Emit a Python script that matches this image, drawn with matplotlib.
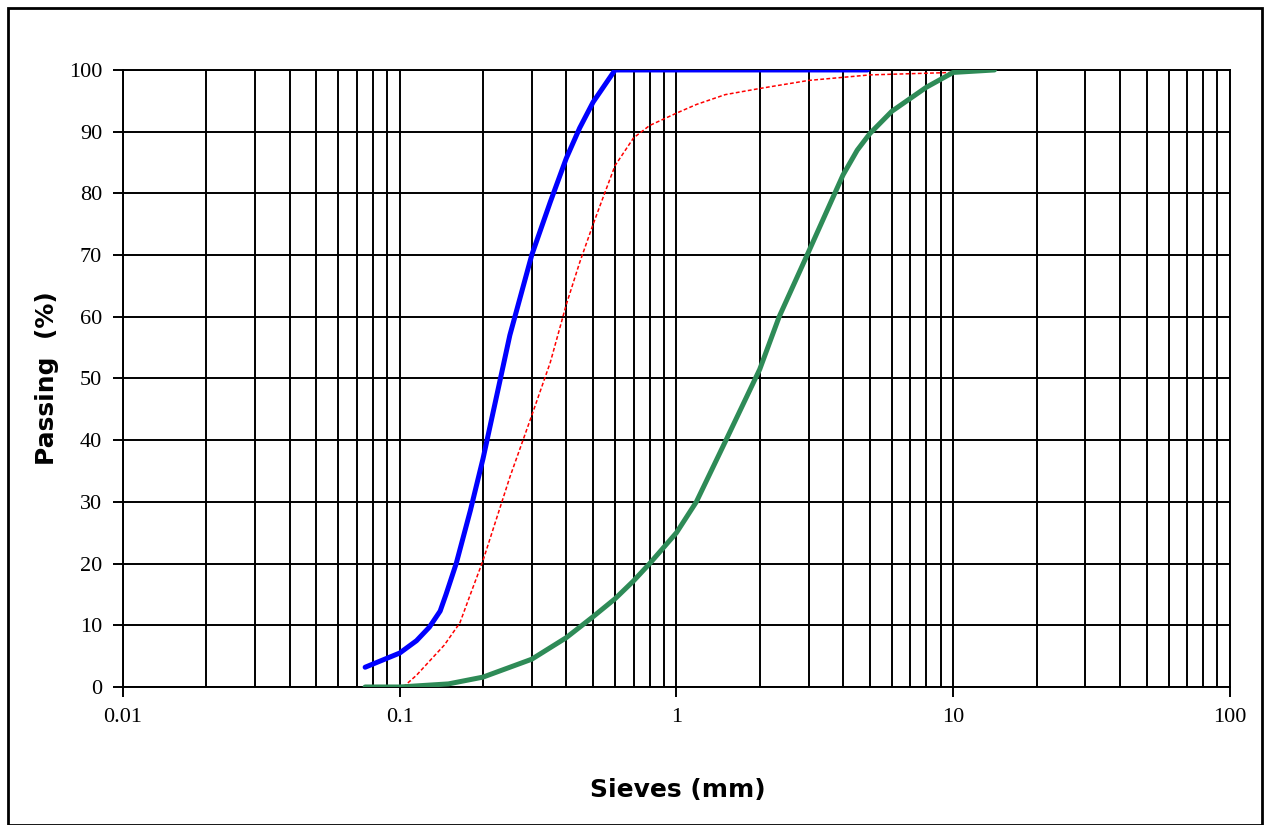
import matplotlib
matplotlib.use("Agg")
import matplotlib.pyplot as plt
from matplotlib.patches import Rectangle
from matplotlib.ticker import LogLocator, FixedLocator, NullFormatter

# sieve sizes (mm) and % passing
blue_x = [0.075, 0.1, 0.115, 0.128, 0.14, 0.147, 0.16, 0.18, 0.2, 0.25, 0.3, 0.35, 0.4, 0.447, 0.5, 0.6, 1.18, 4.9]
blue_y = [3.2, 5.5, 7.5, 9.7, 12.3, 15, 20, 28.6, 37, 57, 70, 78.6, 85.7, 90.6, 94.8, 100, 100, 100]

red_x = [0.103, 0.115, 0.13, 0.145, 0.165, 0.18, 0.2, 0.25, 0.3, 0.35, 0.4, 0.447, 0.5, 0.55, 0.6,
         0.7, 0.8, 1.0, 1.18, 1.5, 2, 3, 5, 10, 14.1]
red_y = [0, 1.9, 4.5, 6.8, 10.4, 15, 20.5, 34, 44, 52.6, 62, 68.8, 75, 80, 84.5,
         89, 91, 93, 94.4, 96, 97, 98.3, 99.2, 99.6, 100]

green_x = [0.075, 0.1, 0.15, 0.2, 0.3, 0.4, 0.5, 0.6, 0.7, 0.8, 1.0, 1.18, 1.51, 2, 2.35, 3, 4, 4.5,
           5, 6, 8, 10, 14.1]
green_y = [0, 0, 0.5, 1.6, 4.5, 8, 11.4, 14.3, 17.2, 20, 25, 30, 40, 51.5, 60, 70.5, 83, 87,
           89.7, 93.3, 97.2, 99.6, 100]

x_ticks = [0.01, 0.1, 1, 10, 100]
x_labels = ["0.01", "0.1", "1", "10", "100"]
y_ticks = list(range(0, 101, 10))

tick_font = ["Liberation Serif", "DejaVu Serif"]

fig = plt.figure(figsize=(12.65, 8.25), dpi=100)
ax = fig.add_axes([0.0972, 0.1673, 0.8751, 0.7479])

ax.plot(blue_x, blue_y, color="#0000FF", linewidth=3.6, solid_capstyle="round",
        solid_joinstyle="round", zorder=3)
ax.plot(red_x, red_y, color="#FF0000", linewidth=1.1, linestyle=(0, (2.5, 1.5)), zorder=3)
ax.plot(green_x, green_y, color="#2E8B57", linewidth=3.6, solid_capstyle="round",
        solid_joinstyle="round", zorder=3)

ax.set_xscale("log")
ax.set_xlim(0.01, 100)
ax.set_ylim(0, 100)
ax.xaxis.set_major_locator(FixedLocator(x_ticks))
ax.set_xticklabels(x_labels)
ax.xaxis.set_minor_locator(LogLocator(base=10, subs=range(2, 10)))
ax.xaxis.set_minor_formatter(NullFormatter())
ax.set_yticks(y_ticks)

ax.grid(True, which="major", color="black", linewidth=1.4)
ax.grid(True, which="minor", axis="x", color="black", linewidth=1.4)
ax.set_axisbelow(True)
ax.tick_params(axis="x", which="minor", length=0)
ax.tick_params(axis="both", which="major", length=7, width=1.4, color="black", pad=8)
for lbl in ax.get_xticklabels() + ax.get_yticklabels():
    lbl.set_family(tick_font)
    lbl.set_fontsize(16)
for s in ax.spines.values():
    s.set_linewidth(1.4)
    s.set_color("black")

ax.set_xlabel("Sieves (mm)", fontsize=18, fontweight="bold")
ax.set_ylabel("Passing  (%)", fontsize=18, fontweight="bold")
ax.xaxis.set_label_coords(0.501, -0.147)
ax.yaxis.set_label_coords(-0.058, 0.5)

fig.patches.append(Rectangle((0.0063, 0.0), 0.9913, 0.9903, transform=fig.transFigure,
                             fill=False, edgecolor="black", linewidth=2))

fig.savefig("out.png", dpi=100)
plt.close(fig)
